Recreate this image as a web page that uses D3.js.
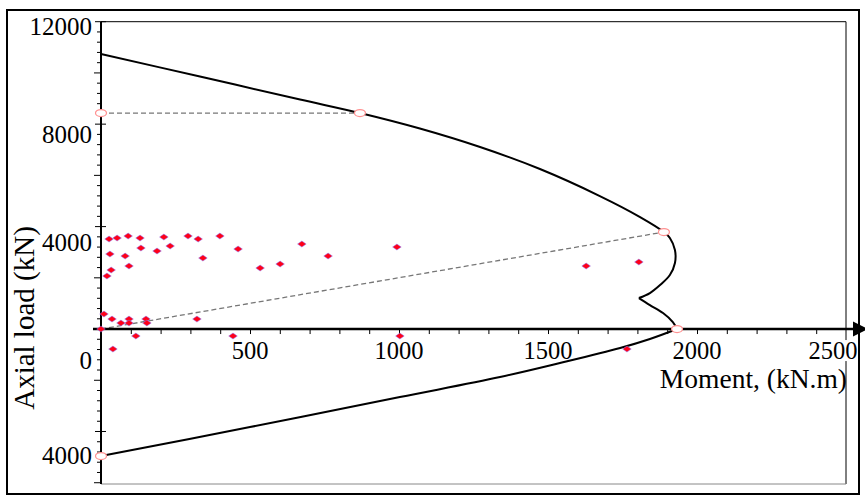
<!DOCTYPE html>
<html><head><meta charset="utf-8">
<script src="https://cdn.jsdelivr.net/npm/d3@7"></script>
<style>body{margin:0;background:#fff} text{font-family:"Liberation Serif","Times New Roman",serif;fill:#000}</style>
</head><body><svg id="c" width="865" height="502"></svg>
<script>
// Interaction diagram (compression branch, top to cusp)
const upperM = [0, 332, 668, 869, 1070, 1272, 1473, 1674, 1809, 1889, 1909, 1926, 1926, 1909, 1876, 1842, 1805];
const upperP = [10738, 9859, 8961, 8434, 7828, 7106, 6247, 5193, 4373, 3788, 3553, 3085, 2577, 2109, 1718, 1406, 1210];
// cusp to pure bending
const cuspM = [1805, 1842, 1886, 1919, 1933];
const cuspP = [1210, 937, 625, 273, 0];
// tension branch
const tensionM = [1933, 1842, 1742, 1540, 1339, 1003, 500, 0];
const tensionP = [0, -390, -742, -1328, -1874, -2655, -3827, -4959];
// key points (open circles)
const keyM = [0, 869, 1889, 1933, 0];
const keyP = [8434, 8434, 3788, 0, -4959];
// test data (diamonds)
const testM = [27, 54, 91, 131, 211, 292, 326, 399, 134, 232, 188, 30, 81, 342, 460, 94, 34, 20, 601, 534, 674, 762, 993, 1628, 1805,
               10, 37, 67, 94, 94, 151, 154, 322, 0, 117, 443, 40, 1003, 1765];
const testP = [3514, 3553, 3631, 3553, 3592, 3631, 3514, 3631, 3163, 3241, 3046, 2929, 2850, 2772, 3124, 2460, 2304, 2070, 2538, 2382, 3319, 2850, 3202, 2460, 2616,
               586, 390, 234, 390, 234, 390, 234, 390, 0, -273, -273, -781, -273, -781];
const xTickLabels = [500, 1000, 1500, 2000, 2500];
const yTickLabels = [12000, 8000, 4000, 0, -4000];

const FONT = '"Liberation Serif","Times New Roman",serif';
const svg = d3.select("#c");
const x = d3.scaleLinear().domain([0, 2500]).range([101, 846]);
const y = d3.scaleLinear().domain([-6050, 12000]).range([484, 21.7]);

// outer border
svg.append("rect").attr("x", 7).attr("y", 10).attr("width", 852).attr("height", 484)
  .attr("fill", "none").attr("stroke", "#000").attr("stroke-width", 2);
// plot frame
svg.append("line").attr("x1", x(0)).attr("x2", x(2500)).attr("y1", y(12000)).attr("y2", y(12000)).attr("stroke", "#000").attr("stroke-width", 1);
svg.append("line").attr("x1", x(2500)).attr("x2", x(2500)).attr("y1", y(12000)).attr("y2", y(-6050)).attr("stroke", "#000").attr("stroke-width", 1);
svg.append("line").attr("x1", x(0)).attr("x2", x(2500)).attr("y1", y(-6050)).attr("y2", y(-6050)).attr("stroke", "#888").attr("stroke-width", 1);

// dashed guides
const dash = svg.append("g").attr("stroke", "#777").attr("stroke-width", 1.3).attr("stroke-dasharray", "5,3").attr("fill", "none");
dash.append("line").attr("x1", x(keyM[0])).attr("y1", y(keyP[0])).attr("x2", x(keyM[1])).attr("y2", y(keyP[1]));
dash.append("line").attr("x1", x(0)).attr("y1", y(0)).attr("x2", x(keyM[2])).attr("y2", y(keyP[2]));

// curves
const line = d3.line().x(d => x(d[0])).y(d => y(d[1])).curve(d3.curveCatmullRom.alpha(0.5));
const curves = svg.append("g").attr("fill", "none").attr("stroke", "#000").attr("stroke-width", 2);
[[upperM, upperP], [cuspM, cuspP], [tensionM, tensionP]].forEach(([m, p]) => {
  curves.append("path").attr("d", line(d3.zip(m, p)));
});

// x axis
const xAxis = d3.axisBottom(x).tickValues(d3.range(100, 2500, 100)).tickSize(5).tickFormat("");
const gx = svg.append("g").attr("transform", `translate(0,${y(0)})`).call(xAxis);
gx.select(".domain").remove();
gx.selectAll(".tick line").attr("stroke", "#000").attr("stroke-width", 1);
svg.append("line").attr("x1", 93).attr("x2", 856).attr("y1", y(0)).attr("y2", y(0)).attr("stroke", "#000").attr("stroke-width", 2.6);
svg.append("path").attr("d", `M853,${y(0) - 7.5}L868,${y(0)}L853,${y(0) + 7.5}Z`).attr("fill", "#000");
const xl = svg.append("g").attr("font-size", 24.5).attr("font-family", FONT).attr("text-anchor", "middle");
xTickLabels.forEach(v => {
  const t = xl.append("text").attr("x", x(v) + (v === 2500 ? -13 : 0)).attr("y", y(0) + 30).text(v);
  if (v === 2500) {
    const b = t.node().getBBox();
    xl.insert("rect", "text").attr("x", b.x).attr("y", b.y + 3).attr("width", b.width).attr("height", b.height - 6).attr("fill", "#fff");
  }
});

// y axis
const minorTicks = d3.range(-6000, 12001, 400);
const gy = svg.append("g");
gy.append("line").attr("x1", x(0)).attr("x2", x(0)).attr("y1", y(12000)).attr("y2", y(-6050)).attr("stroke", "#000").attr("stroke-width", 2);
gy.selectAll("line.t").data(minorTicks).join("line").attr("class", "t")
  .attr("x1", d => d % 4000 === 0 ? x(0) - 6 : d % 2000 === 0 ? x(0) - 7 : x(0) - 4)
  .attr("x2", d => d % 4000 === 0 ? x(0) + 5 : x(0))
  .attr("y1", d => y(d)).attr("y2", d => y(d))
  .attr("stroke", "#000").attr("stroke-width", 1);
const labelShift = v => v > 0 ? 5 + (12000 - v) / 1000 * 1.3 : (v === 0 ? 31 : 24);
const yl = svg.append("g").attr("font-size", 25).attr("font-family", FONT).attr("text-anchor", "end");
yTickLabels.forEach(v => {
  yl.append("text").attr("x", 92).attr("y", y(v) + labelShift(v)).attr("dy", "0.35em").text(Math.abs(v));
});

// titles
svg.append("text").attr("font-size", 27.5).attr("font-family", FONT).attr("text-anchor", "end").attr("x", 847).attr("y", 388).text("Moment, (kN.m)");
svg.append("text").attr("font-size", 29).attr("font-family", FONT).attr("text-anchor", "middle")
  .attr("transform", "translate(34,318) rotate(-90)").text("Axial load (kN)");

// test points
svg.append("g").selectAll("path").data(d3.zip(testM, testP)).join("path")
  .attr("d", "M0,-3L4.3,0L0,3L-4.3,0Z")
  .attr("transform", d => `translate(${x(d[0])},${y(d[1])})`)
  .attr("fill", "#ff0018").attr("stroke", "#8878ff").attr("stroke-width", 0.5);

// key points
svg.append("g").selectAll("ellipse").data(d3.zip(keyM, keyP)).join("ellipse")
  .attr("cx", d => x(d[0])).attr("cy", d => y(d[1])).attr("rx", 5.5).attr("ry", 3.5)
  .attr("fill", "#fff").attr("stroke", "#ff9090").attr("stroke-width", 1.2);
</script></body></html>
